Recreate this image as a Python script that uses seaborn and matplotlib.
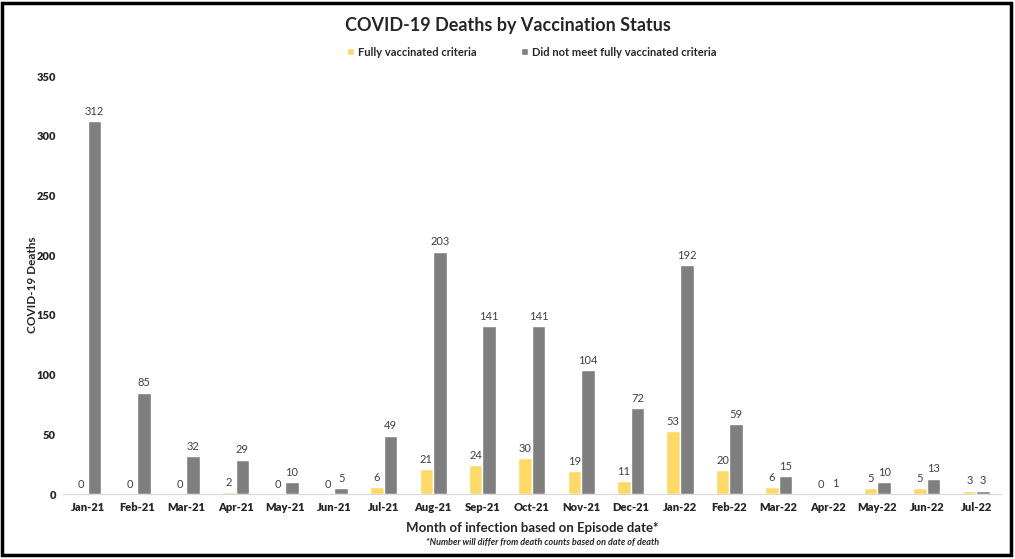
import matplotlib
matplotlib.use("Agg")
import matplotlib.pyplot as plt
import numpy as np
import pandas as pd
import seaborn as sns
from matplotlib.patches import Rectangle

months = ["Jan-21", "Feb-21", "Mar-21", "Apr-21", "May-21", "Jun-21", "Jul-21", "Aug-21", "Sep-21",
          "Oct-21", "Nov-21", "Dec-21", "Jan-22", "Feb-22", "Mar-22", "Apr-22", "May-22", "Jun-22", "Jul-22"]
fullyVaccinated = [0, 0, 0, 2, 0, 0, 6, 21, 24, 30, 19, 11, 53, 20, 6, 0, 5, 5, 3]
notFullyVaccinated = [312, 85, 32, 29, 10, 5, 49, 203, 141, 141, 104, 72, 192, 59, 15, 1, 10, 13, 3]
seriesNames = ["Fully vaccinated criteria", "Did not meet fully vaccinated criteria"]
colours = ["#FFD966", "#7F7F7F"]
yTicks = [0, 50, 100, 150, 200, 250, 300, 350]

def main():
    sns.set_style("white")
    plt.rcParams["font.family"] = ["Lato", "DejaVu Sans"]

    df = pd.DataFrame({
        "Month": months * 2,
        "Deaths": fullyVaccinated + notFullyVaccinated,
        "Status": [seriesNames[0]] * len(months) + [seriesNames[1]] * len(months),
    })

    fig = plt.figure(figsize=(10.15, 5.59), dpi=100)
    ax = fig.add_axes([0.062, 0.116, 0.924, 0.748])
    # saturation=1 so seaborn keeps the excel colours as they are
    sns.barplot(data=df, x="Month", y="Deaths", hue="Status", palette=colours,
                width=0.55, gap=0, saturation=1, ax=ax, legend=True)

    for container in ax.containers:
        ax.bar_label(container, fmt="%d", padding=3, fontsize=8, color="#404040")

    ax.set_ylim(0, 350)
    ax.set_xlim(-0.5, len(months) - 0.5)
    ax.set_xticks(range(len(months)))
    ax.set_xticklabels(months, fontweight="heavy", fontsize=8)
    ax.set_yticks(yTicks)
    ax.set_yticklabels([str(v) for v in yTicks], fontweight="heavy", fontsize=8)
    ax.tick_params(axis="x", length=0, pad=6)
    ax.tick_params(axis="y", length=0, pad=5)
    for side in ["top", "right", "left"]:
        ax.spines[side].set_visible(False)
    ax.spines["bottom"].set_color("#D9D9D9")

    ax.set_ylabel("COVID-19 Deaths", fontweight="bold", fontsize=8.5, labelpad=-1)
    ax.set_xlabel("Month of infection based on Episode date*", fontweight="bold", fontsize=9.5, labelpad=6)
    fig.text(0.535, 0.030, "*Number will differ from death counts based on date of death",
             ha="center", va="center", fontsize=6.5, fontstyle="italic", fontweight="bold")

    fig.suptitle("COVID-19 Deaths by Vaccination Status", fontweight="bold", fontsize=13, y=0.97)
    ax.legend(loc="lower center", bbox_to_anchor=(0.5, 1.02), ncol=2, frameon=False,
              fontsize=8, handlelength=0.6, handleheight=0.6, columnspacing=4, handletextpad=0.4)
    for t in ax.get_legend().get_texts():
        t.set_fontweight("bold")

    # outer frame like the original image
    fig.patches.append(Rectangle((0.002, 0.008), 0.994, 0.986, transform=fig.transFigure,
                                 fill=False, edgecolor="black", linewidth=2.5))

    fig.savefig("out.png", dpi=100)
    plt.close(fig)

if __name__ == "__main__":
    main()
